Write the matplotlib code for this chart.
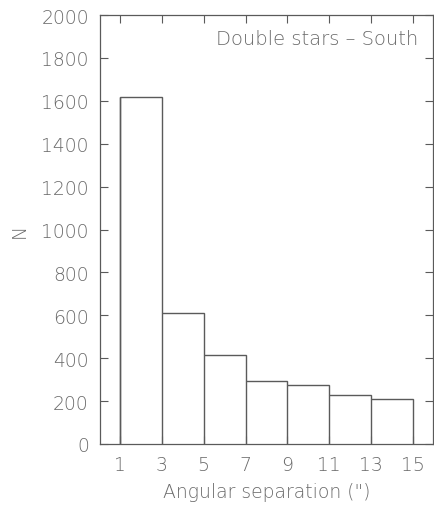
import numpy as np
import matplotlib.pyplot as plt

# histogram of angular separations
bin_edges = [1, 3, 5, 7, 9, 11, 13, 15]
counts = [1618, 612, 415, 294, 276, 227, 208]
xticks = [1, 3, 5, 7, 9, 11, 13, 15]
yticks = [0, 200, 400, 600, 800, 1000, 1200, 1400, 1600, 1800, 2000]

col = '#5a5a5a'
tcol = '#6a6a6a'
plt.rcParams['font.family'] = 'DejaVu Sans'
plt.rcParams['font.weight'] = 'light'

fig = plt.figure(figsize=(4.34, 5.06), dpi=100)
ax = fig.add_axes([100/434, 61/506, 333/434, 429/506])

ax.stairs(counts, bin_edges, color=col, linewidth=1.0)
ax.vlines(bin_edges[1:-1], 0, counts[1:], color=col, linewidth=1.0)
ax.vlines([bin_edges[0]], 0, counts[0], color=col, linewidth=1.0)

ax.set_xlim(0.05, 15.95)
ax.set_ylim(0, 2000)
ax.set_xticks(xticks)
ax.set_yticks(yticks)
ax.tick_params(direction='in', top=True, right=True, length=6, width=0.8,
               color=col, labelcolor=tcol, labelsize=13.5, pad=8)
for s in ax.spines.values():
    s.set_color(col)
    s.set_linewidth(0.9)

ax.set_xlabel('Angular separation (")', fontsize=13.5, color=tcol,
              fontweight='light', labelpad=6)
ax.set_ylabel('N', fontsize=13.5, color=tcol, fontweight='light', labelpad=9)
ax.text(0.955, 0.945, 'Double stars \u2013 South', transform=ax.transAxes,
        ha='right', va='center', fontsize=14, color=tcol, fontweight='light')

fig.savefig('out.png', dpi=100)
